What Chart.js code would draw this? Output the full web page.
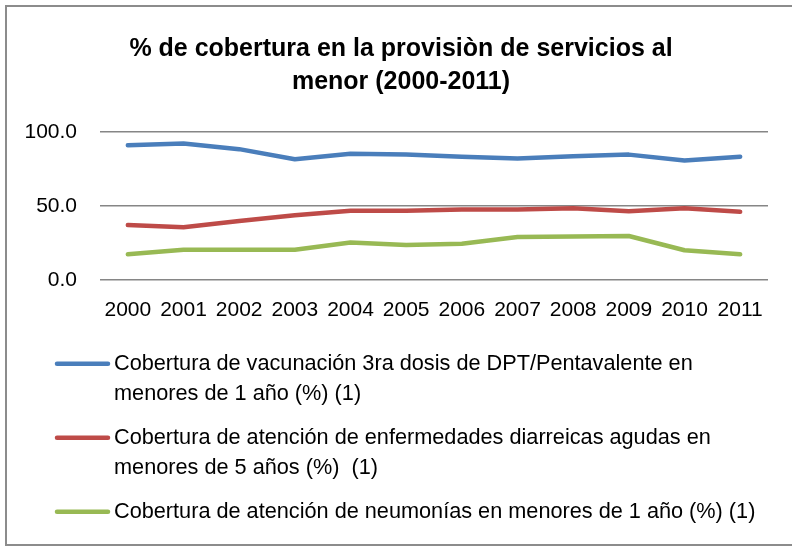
<!DOCTYPE html>
<html>
<head>
<meta charset="utf-8">
<script src="https://cdn.jsdelivr.net/npm/chart.js@4"></script>
<style>
  html, body { margin: 0; padding: 0; background: #fff; }
</style>
</head>
<body>
<canvas id="chart" width="792" height="551"></canvas>
<script>
const years = ["2000", "2001", "2002", "2003", "2004", "2005", "2006", "2007", "2008", "2009", "2010", "2011"];
const vacunacion = [91.1, 92.2, 88.4, 81.6, 85.3, 84.7, 83.3, 82.0, 83.6, 84.7, 80.7, 83.3];
const diarreicas = [37.1, 35.6, 39.8, 43.6, 46.7, 46.7, 47.6, 47.6, 48.4, 46.4, 48.4, 46.0];
const neumonias = [17.3, 20.4, 20.4, 20.4, 25.3, 23.6, 24.4, 28.9, 29.3, 29.6, 20.0, 17.3];
const yTicks = [0, 50, 100];

const titleLines = ["% de cobertura en la provisiòn de servicios al", "menor (2000-2011)"];
const seriesLabels = [
  ["Cobertura de vacunación 3ra dosis de DPT/Pentavalente en", "menores de 1 año (%) (1)"],
  ["Cobertura de atención de enfermedades diarreicas agudas en", "menores de 5 años (%)  (1)"],
  ["Cobertura de atención de neumonías en menores de 1 año (%) (1)"],
];
const seriesColors = ["#4a7ebb", "#be4b48", "#98b954"];

const FONT = "'Liberation Sans', Arial, sans-serif";

// gray frame round the chart (right edge is cut off in the original)
const frame = {
  id: "frame",
  afterLayout(chart) {
    // title sits a little right of the canvas centre
    chart.titleBlock.left += 10;
  },
  beforeDraw(chart) {
    const ctx = chart.ctx;
    ctx.save();
    ctx.fillStyle = "#fff";
    ctx.fillRect(0, 0, chart.width, chart.height);
    ctx.strokeStyle = "#8c8c8c";
    ctx.lineWidth = 2;
    ctx.beginPath();
    ctx.moveTo(chart.width, 6);
    ctx.lineTo(6, 6);
    ctx.lineTo(6, 545);
    ctx.lineTo(chart.width, 545);
    ctx.stroke();
    ctx.restore();
  },
};

// legend with wrapped labels, one item per row
const wrappedLegend = {
  id: "wrappedLegend",
  afterDraw(chart) {
    const ctx = chart.ctx;
    const area = chart.chartArea;
    const lineH = 30;
    const itemGap = 44;
    let y = area.bottom + 84;
    ctx.save();
    ctx.font = "21.7px " + FONT;
    ctx.textBaseline = "middle";
    ctx.fillStyle = "#000";
    chart.data.datasets.forEach((ds) => {
      ctx.strokeStyle = ds.borderColor;
      ctx.lineWidth = 4.5;
      ctx.lineCap = "round";
      ctx.beginPath();
      ctx.moveTo(area.left - 43, y);
      ctx.lineTo(area.left + 8, y);
      ctx.stroke();
      const lines = ds.label;
      lines.forEach((t, i) => ctx.fillText(t, area.left + 14, y + i * lineH));
      y += (lines.length - 1) * lineH + itemGap;
    });
    ctx.restore();
  },
};

const datasets = [vacunacion, diarreicas, neumonias].map((values, i) => ({
  label: seriesLabels[i],
  data: values,
  borderColor: seriesColors[i],
  backgroundColor: seriesColors[i],
  borderWidth: 4.5,
  borderCapStyle: "round",
  borderJoinStyle: "round",
  pointRadius: 0,
  tension: 0,
}));

new Chart(document.getElementById("chart"), {
  type: "line",
  data: { labels: years, datasets },
  options: {
    responsive: false,
    animation: false,
    layout: { padding: { top: 0, left: 24, right: 24, bottom: 218 } },
    plugins: {
      legend: { display: false },
      tooltip: { enabled: false },
      title: {
        display: true,
        text: titleLines,
        color: "#000",
        font: { family: FONT, size: 25, weight: "bold", lineHeight: 1.3 },
        padding: { top: 33, bottom: 34 },
      },
    },
    scales: {
      x: {
        offset: true,
        grid: { display: false },
        border: { display: false },
        ticks: {
          color: "#000",
          font: { family: FONT, size: 21 },
          padding: 10,
          maxRotation: 0,
          autoSkip: false,
        },
      },
      y: {
        min: 0,
        max: 100,
        afterBuildTicks: (axis) => {
          axis.ticks = yTicks.map((v) => ({ value: v }));
        },
        afterFit: (axis) => {
          axis.width = 76;
        },
        grid: { color: "#868686", lineWidth: 1.5, drawTicks: false },
        border: { display: false },
        ticks: {
          color: "#000",
          font: { family: FONT, size: 21 },
          padding: 23,
          callback: (v) => v.toFixed(1),
        },
      },
    },
  },
  plugins: [frame, wrappedLegend],
});
</script>
</body>
</html>
